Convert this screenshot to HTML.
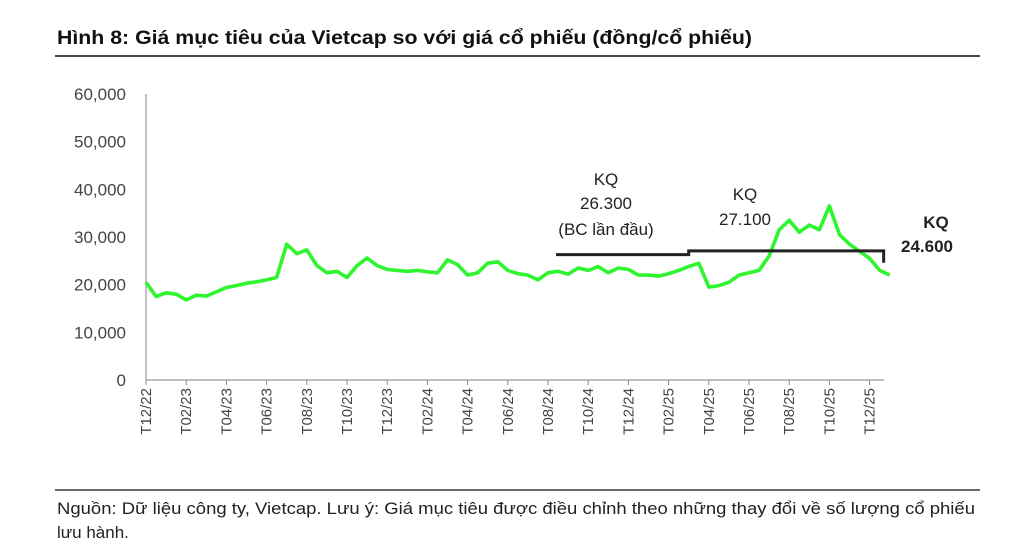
<!DOCTYPE html>
<html><head><meta charset="utf-8"><style>
body{margin:0;background:#fff;font-family:"Liberation Sans",sans-serif;}
#wrap{position:relative;width:1022px;height:549px;overflow:hidden;background:#fff}
</style></head><body>
<div id="wrap">
<svg id="c" width="1022" height="549" xmlns="http://www.w3.org/2000/svg">
<text x="57" y="44" font-size="19" font-weight="bold" fill="#111" font-family="Liberation Sans, sans-serif" textLength="695" lengthAdjust="spacingAndGlyphs">Hình 8: Giá mục tiêu của Vietcap so với giá cổ phiếu (đồng/cổ phiếu)</text>
<line x1="55" y1="56" x2="980" y2="56" stroke="#111" stroke-width="1.5"/>
<line x1="55" y1="490" x2="980" y2="490" stroke="#111" stroke-width="1.2"/>
<text x="57" y="514" font-size="17" fill="#222" textLength="918" lengthAdjust="spacingAndGlyphs">Nguồn: Dữ liệu công ty, Vietcap. Lưu ý: Giá mục tiêu được điều chỉnh theo những thay đổi về số lượng cổ phiếu</text>
<text x="57" y="538" font-size="17" fill="#222">lưu hành.</text>
<g id="plot"></g>
</svg>
</div>
<script>
const yTicks=[0,10000,20000,30000,40000,50000,60000];
const yTickLabels=["0","10,000","20,000","30,000","40,000","50,000","60,000"];
const xTickLabels=["T12/22","T02/23","T04/23","T06/23","T08/23","T10/23","T12/23","T02/24","T04/24","T06/24","T08/24","T10/24","T12/24","T02/25","T04/25","T06/25","T08/25","T10/25","T12/25"];
// price in thousand VND, every half month starting Dec 2022
const prices=[20.5,17.5,18.3,18.0,16.8,17.8,17.6,18.5,19.4,19.8,20.3,20.6,21.0,21.5,28.5,26.5,27.3,24.0,22.5,22.8,21.5,24.0,25.6,24.0,23.2,23.0,22.8,23.0,22.7,22.5,25.2,24.2,22.0,22.5,24.5,24.8,23.0,22.3,22.0,21.0,22.5,22.8,22.2,23.5,23.0,23.8,22.5,23.5,23.2,22.0,22.0,21.8,22.3,23.0,23.8,24.5,19.5,19.8,20.5,22.0,22.5,23.0,26.0,31.5,33.5,31.0,32.5,31.5,36.5,30.5,28.5,27.0,25.5,23.0,22.0];
// target price segments: [startMonth, endMonth, value]
const targetStart=[20.4,27.0];
const targetEnd=[27.0,36.7];
const targetVal=[26300,27100];
const finalTarget=24600;

const X0=146, PXM=20.1, Y0=380, PXV=286/60000;
const xs=m=>X0+m*PXM, ys=v=>Y0-v*PXV;
const g=document.getElementById('plot'), NS="http://www.w3.org/2000/svg";
function mk(t,a){const e=document.createElementNS(NS,t);for(const k in a)e.setAttribute(k,a[k]);g.appendChild(e);return e;}
yTicks.forEach((v,i)=>{const t=mk('text',{x:126,y:ys(v)+6,'text-anchor':'end','font-size':17,fill:'#444'});t.textContent=yTickLabels[i];

});
xTickLabels.forEach((l,i)=>{const x=xs(i*2);const tk=mk('line',{x1:x,y1:Y0,x2:x,y2:Y0+5,stroke:'#888'});


const t=mk('text',{x:0,y:0,transform:`translate(${x+5},388) rotate(-90)`,'text-anchor':'end','font-size':15,fill:'#444'});t.textContent=l;

});
const ya=mk('line',{x1:X0,y1:94,x2:X0,y2:Y0,stroke:'#999','stroke-width':1.2});


const xa=mk('line',{x1:X0,y1:Y0,x2:884,y2:Y0,stroke:'#999','stroke-width':1.2});


const pts=prices.map((p,i)=>xs(i*0.5).toFixed(1)+','+ys(p*1000).toFixed(1)).join(' ');
const pl=mk('polyline',{points:pts,fill:'none',stroke:'#2ef52e','stroke-width':3.6,'stroke-linejoin':'round'});


let d='';targetVal.forEach((v,i)=>{d+=(i?'L':'M')+xs(targetStart[i])+','+ys(v)+'L'+xs(targetEnd[i])+','+ys(v);});
d+='L'+xs(targetEnd[targetEnd.length-1])+','+ys(finalTarget);
const tl=mk('path',{d:d,fill:'none',stroke:'#222','stroke-width':3});


function lab(x,y,s,b,n){const t=mk('text',{x:x,y:y,'text-anchor':'middle','font-size':17,fill:'#222','font-weight':b?'bold':'normal'});t.textContent=s;

}
lab(606,185,'KQ',0,'annotation-kq-1');lab(606,209,'26.300',0,'annotation-value-1');lab(606,235,'(BC lần đầu)',0,'annotation-note-1');
lab(745,200,'KQ',0,'annotation-kq-2');lab(745,225,'27.100',0,'annotation-value-2');
lab(936,228,'KQ',1,'annotation-kq-3');lab(927,252,'24.600',1,'annotation-value-3');
</script>
</body></html>
